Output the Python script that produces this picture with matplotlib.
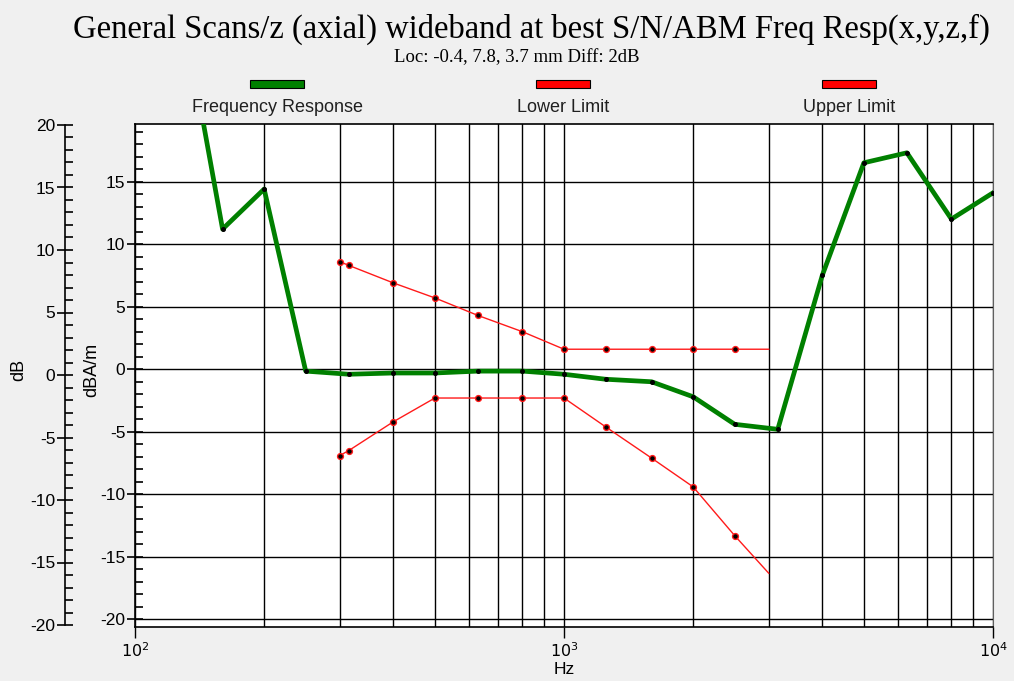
import matplotlib
matplotlib.use('Agg')
import matplotlib.pyplot as plt
from matplotlib.patches import Rectangle
from matplotlib.ticker import MultipleLocator, FixedLocator, NullFormatter

# frequency response, Hz / dB
freq_fr = [125, 160, 200, 250, 315, 400, 500, 630, 800, 1000, 1250, 1600,
           2000, 2500, 3150, 4000, 5000, 6300, 8000, 10000]
resp_fr = [31.5, 11.2, 14.4, -0.15, -0.4, -0.3, -0.3, -0.15, -0.15, -0.4, -0.8, -1.0,
           -2.2, -4.4, -4.8, 7.5, 16.5, 17.3, 12.0, 14.1]

# tolerance limits
freq_lim = [300, 315, 400, 500, 630, 800, 1000, 1250, 1600, 2000, 2500, 3000]
upper_lim = [8.6, 8.3, 6.9, 5.7, 4.3, 3.0, 1.6, 1.6, 1.6, 1.6, 1.6, 1.6]
lower_lim = [-6.9, -6.5, -4.2, -2.3, -2.3, -2.3, -2.3, -4.6, -7.1, -9.4, -13.3, -16.3]

title = "General Scans/z (axial) wideband at best S/N/ABM Freq Resp(x,y,z,f)"
subtitle = "Loc: -0.4, 7.8, 3.7 mm Diff: 2dB"
legend_names = ["Frequency Response", "Lower Limit", "Upper Limit"]

W, H = 1014, 681
plt.rcParams['font.family'] = ['Liberation Sans', 'DejaVu Sans']
plt.rcParams['axes.unicode_minus'] = False
fig = plt.figure(figsize=(W / 100, H / 100), dpi=100, facecolor='#f0f0f0')

ax = fig.add_axes([135 / W, 1 - 627 / H, 858 / W, 503 / H])
ax.set_facecolor('white')
ax.set_xscale('log')
ax.set_xlim(100, 10000)
ax.set_ylim(-20.6, 19.6)

# grid
ax.xaxis.set_minor_locator(FixedLocator([m * d for d in (100, 1000) for m in range(2, 10)]))
ax.xaxis.set_minor_formatter(NullFormatter())
ax.set_xticks([100, 1000, 10000], [r'$10^2$', r'$10^3$', r'$10^4$'])
ax.yaxis.set_major_locator(FixedLocator([-20, -15, -10, -5, 0, 5, 10, 15]))
ax.yaxis.set_minor_locator(MultipleLocator(1))
ax.grid(True, which='both', axis='x', color='black', lw=1.0)
ax.grid(True, which='major', axis='y', color='black', lw=1.0)
ax.set_axisbelow(True)
ax.tick_params(axis='x', which='major', direction='out', length=8, width=1, pad=2,
               labelsize=11.5, colors='black')
ax.tick_params(axis='x', which='minor', length=0)
ax.tick_params(axis='y', which='major', direction='inout', length=12, width=1.2,
               labelsize=12.5, pad=1)
ax.tick_params(axis='y', which='minor', direction='in', length=6, width=1.2)
for s in ('left', 'bottom', 'top'):
    ax.spines[s].set_color('black')
    ax.spines[s].set_linewidth(1.2)
ax.spines['right'].set_color('#606060')
ax.set_xlabel('Hz', fontsize=12.5, labelpad=2)

# outer dB axis
ax2 = ax.twinx()
ax2.set_ylim(-20.16, 20.08)
ax2.yaxis.tick_left()
ax2.spines['left'].set_position(('outward', 50.4))
ax2.spines['left'].set_bounds(-20, 20)
ax2.spines['left'].set_linewidth(1.2)
for s in ('right', 'top', 'bottom'):
    ax2.spines[s].set_visible(False)
ax2.yaxis.set_major_locator(MultipleLocator(5))
ax2.yaxis.set_minor_locator(MultipleLocator(1))
ax2.tick_params(axis='y', which='major', direction='inout', length=12, width=1.2,
                labelsize=12.5, pad=1)
ax2.tick_params(axis='y', which='minor', direction='in', length=6, width=1.2)

fig.text(19 / W, 1 - 370 / H, 'dB', rotation=90, ha='center', va='center', fontsize=13)
fig.text(92 / W, 1 - 370 / H, 'dBA/m', rotation=90, ha='center', va='center', fontsize=13)

# data
ax.plot(freq_fr, resp_fr, color='#008000', lw=3.4, marker='o', ms=2.6,
        mfc='black', mec='black', zorder=4)
for lim in (upper_lim, lower_lim):
    ax.plot(freq_lim, lim, color='#ff1a1a', lw=1.0, marker='o', ms=4.2,
            mfc='black', mec='#ff1a1a', mew=1.0, markevery=slice(0, -1), zorder=3)

# titles
fig.text(531 / W, 1 - 29 / H, title, ha='center', va='center', fontsize=23.5,
         family=['Liberation Serif', 'DejaVu Serif'])
fig.text(517 / W, 1 - 58 / H, subtitle, ha='center', va='center', fontsize=13.5,
         family=['Liberation Serif', 'DejaVu Serif'])

# legend
legend_colors = ['#008000', '#ff0000', '#ff0000']
legend_x = [277, 563, 849]
for name, c, x in zip(legend_names, legend_colors, legend_x):
    fig.patches.append(Rectangle(((x - 27) / W, 1 - 88 / H), 54 / W, 8 / H,
                                 facecolor=c, edgecolor='black', lw=0.8,
                                 transform=fig.transFigure, figure=fig))
    fig.text(x / W, 1 - 108 / H, name, ha='center', va='center', fontsize=13,
             color='#202020')

fig.savefig('out.png', dpi=100, facecolor=fig.get_facecolor())
